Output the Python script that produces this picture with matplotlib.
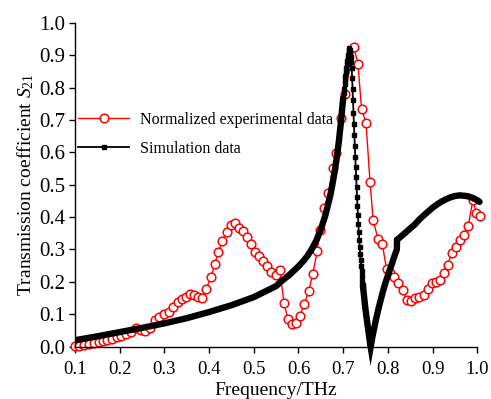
import matplotlib
matplotlib.use("Agg")
import matplotlib.pyplot as plt

plt.rcParams.update({
    "font.family": ["Liberation Serif", "DejaVu Serif"],
    "mathtext.fontset": "custom",
    "mathtext.rm": "Liberation Serif",
    "mathtext.it": "Liberation Serif:italic",
})

# Normalized experimental data (red open circles)
exp_f = [0.100, 0.109, 0.120, 0.131, 0.142, 0.153, 0.162, 0.172, 0.183, 0.194,
         0.204, 0.215, 0.225, 0.236, 0.247, 0.257, 0.268, 0.279, 0.289, 0.300,
         0.310, 0.320, 0.330, 0.339, 0.348, 0.357, 0.366, 0.376, 0.385, 0.393,
         0.405, 0.4125, 0.421, 0.430, 0.439, 0.448, 0.457, 0.466, 0.4765, 0.4855,
         0.494, 0.503, 0.512, 0.521, 0.530, 0.539, 0.5497, 0.558, 0.5675, 0.576,
         0.585, 0.594, 0.603, 0.613, 0.623, 0.632, 0.642, 0.648, 0.658, 0.667,
         0.6765, 0.684, 0.6944, 0.704, 0.724, 0.733, 0.741, 0.751, 0.760, 0.767,
         0.778, 0.7875, 0.797, 0.805, 0.8135, 0.823, 0.833, 0.842, 0.851, 0.8605,
         0.870, 0.880, 0.889, 0.898, 0.907, 0.916, 0.925, 0.934, 0.9425, 0.9515,
         0.961, 0.9695, 0.980, 0.990, 0.998, 1.007]
exp_s21 = [0.002, 0.003, 0.005, 0.008, 0.011, 0.014, 0.018, 0.022, 0.025, 0.029,
           0.034, 0.039, 0.045, 0.057, 0.050, 0.049, 0.059, 0.082, 0.091, 0.100,
           0.107, 0.121, 0.139, 0.148, 0.154, 0.162, 0.160, 0.154, 0.151, 0.177,
           0.216, 0.254, 0.293, 0.326, 0.355, 0.376, 0.383, 0.365, 0.358, 0.338,
           0.316, 0.293, 0.280, 0.264, 0.249, 0.231, 0.221, 0.237, 0.136, 0.086,
           0.071, 0.073, 0.094, 0.132, 0.173, 0.225, 0.296, 0.360, 0.427, 0.473,
           0.551, 0.597, 0.706, 0.781, 0.924, 0.873, 0.735, 0.691, 0.509, 0.390,
           0.332, 0.316, 0.240, 0.228, 0.214, 0.197, 0.174, 0.144, 0.141, 0.150,
           0.153, 0.161, 0.179, 0.196, 0.200, 0.206, 0.226, 0.252, 0.290, 0.307,
           0.329, 0.345, 0.373, 0.453, 0.412, 0.404]

# Simulation data: smooth rise up to the resonance
sim_rise_f = [0.10, 0.15, 0.20, 0.25, 0.30, 0.35, 0.40, 0.45, 0.50, 0.55,
              0.56, 0.58, 0.60, 0.61, 0.62, 0.63, 0.64, 0.65, 0.66, 0.67,
              0.675, 0.68, 0.685, 0.69, 0.695, 0.700]
sim_rise_s21 = [0.020, 0.032, 0.045, 0.058, 0.072, 0.088, 0.107, 0.128, 0.153, 0.187,
                0.200, 0.222, 0.248, 0.263, 0.280, 0.302, 0.328, 0.362, 0.405, 0.460,
                0.494, 0.533, 0.577, 0.630, 0.694, 0.768]

# Simulation data around the peak and sharp drop (points drawn individually)
sim_peak_f = [0.700, 0.701, 0.702, 0.703, 0.704, 0.705, 0.706, 0.707, 0.708, 0.709,
              0.710, 0.711, 0.712, 0.713, 0.714, 0.715, 0.716, 0.717, 0.718, 0.719,
              0.720, 0.721, 0.722, 0.723, 0.724, 0.725, 0.726, 0.727, 0.728, 0.729,
              0.730, 0.731, 0.732, 0.733, 0.734, 0.735, 0.736, 0.737, 0.738, 0.739,
              0.740, 0.741, 0.742, 0.743, 0.744]
sim_peak_s21 = [0.768, 0.782, 0.796, 0.810, 0.823, 0.836, 0.849, 0.861, 0.872, 0.882,
                0.891, 0.899, 0.907, 0.915, 0.921, 0.917, 0.908, 0.895, 0.879, 0.860,
                0.830, 0.795, 0.760, 0.722, 0.686, 0.652, 0.619, 0.587, 0.555, 0.523,
                0.492, 0.462, 0.433, 0.405, 0.378, 0.353, 0.330, 0.308, 0.287, 0.268,
                0.250, 0.234, 0.218, 0.204, 0.190]

# Simulation data: minimum, kink and second broad maximum
sim_tail_f = [0.744, 0.746, 0.749, 0.752, 0.756, 0.759, 0.7615, 0.766, 0.770, 0.775,
              0.780, 0.785, 0.790, 0.795, 0.800, 0.805, 0.810, 0.815, 0.820, 0.8205,
              0.830, 0.840, 0.850, 0.860, 0.870, 0.880, 0.890, 0.900, 0.910, 0.920,
              0.930, 0.940, 0.950, 0.960, 0.970, 0.980, 0.990, 1.000, 1.005]
sim_tail_s21 = [0.190, 0.164, 0.125, 0.093, 0.052, 0.022, 0.000, 0.035, 0.062, 0.094,
                0.123, 0.150, 0.176, 0.199, 0.220, 0.240, 0.260, 0.281, 0.300, 0.330,
                0.341, 0.353, 0.365, 0.377, 0.392, 0.405, 0.417, 0.429, 0.439, 0.448,
                0.455, 0.461, 0.465, 0.467, 0.466, 0.464, 0.459, 0.452, 0.447]

fig = plt.figure(figsize=(4.91, 3.99), dpi=100)
ax = fig.add_axes([0.1527, 0.1311, 0.8194, 0.812])

ax.plot(exp_f, exp_s21, color="red", linewidth=1.0, marker="o", markersize=6.2,
        markerfacecolor="white", markeredgecolor="red", markeredgewidth=1.1,
        label="Normalized experimental data", zorder=2, clip_on=False)
ax.plot(sim_rise_f, sim_rise_s21, color="black", linewidth=4.6,
        solid_capstyle="round", zorder=3)
ax.plot(sim_peak_f, sim_peak_s21, color="black", linewidth=1.3, marker="s",
        markersize=3.2, label="Simulation data", zorder=3)
ax.plot(sim_tail_f, sim_tail_s21, color="black", linewidth=4.6,
        solid_capstyle="round", solid_joinstyle="miter", zorder=3, clip_on=False)

ax.set_xlim(0.1, 1.0)
ax.set_ylim(0.0, 1.0)
ax.set_xticks([0.1, 0.2, 0.3, 0.4, 0.5, 0.6, 0.7, 0.8, 0.9, 1.0])
ax.set_yticks([0.0, 0.1, 0.2, 0.3, 0.4, 0.5, 0.6, 0.7, 0.8, 0.9, 1.0])
ax.spines["top"].set_visible(False)
ax.spines["right"].set_visible(False)
ax.spines["left"].set_linewidth(1.0)
ax.spines["bottom"].set_linewidth(1.0)
ax.tick_params(direction="out", length=4, width=1.0)
ax.tick_params(axis="x", labelsize=13.5, pad=6)
ax.tick_params(axis="y", labelsize=15, pad=3)

ax.set_xlabel("Frequency/THz", fontsize=14, labelpad=3)
ax.set_ylabel(r"Transmission coefficient $S_{21}$", fontsize=14, labelpad=2)

ax.legend(loc="upper left", bbox_to_anchor=(0.0, 0.735), frameon=False,
          fontsize=11.5, handlelength=3.2, handletextpad=0.7, labelspacing=0.8,
          borderaxespad=0, borderpad=0.2, numpoints=1)

fig.savefig("out.png", dpi=100)
